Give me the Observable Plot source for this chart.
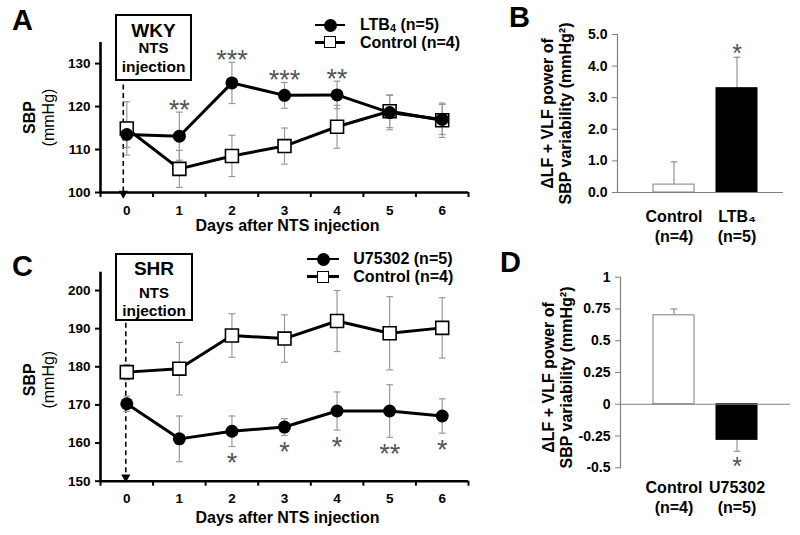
<!DOCTYPE html>
<html><head><meta charset="utf-8">
<script src="https://cdn.jsdelivr.net/npm/d3@7"></script>
<script src="https://cdn.jsdelivr.net/npm/@observablehq/plot@0.6"></script>
<style>
html,body{margin:0;padding:0;background:#fff;}
#fig{position:relative;width:800px;height:535px;overflow:hidden;font-family:'Liberation Sans',Arial,Helvetica,sans-serif;color:#000;}
.pl{position:absolute;}
.pl svg{display:block;}
.t{position:absolute;white-space:nowrap;}
.t sub{font-size:0.68em;line-height:0;vertical-align:-0.22em;}
.box{position:absolute;box-sizing:border-box;border:2.5px solid #000;background:#fff;}
.lgline{position:absolute;height:2.6px;background:#000;}
.lgdot{position:absolute;box-sizing:border-box;}
</style></head><body><div id="fig"></div>
<script>
// ---------- data ----------
const days = [0, 1, 2, 3, 4, 5, 6];
// Panel A: WKY
const wkyLTB4      = [113.5, 113.1, 125.5, 122.6, 122.7, 118.6, 117.0];
const wkyLTB4Err   = [3.0, 5.6, 4.8, 3.0, 3.2, 4.0, 3.5];
const wkyControl   = [114.9, 105.5, 108.5, 110.8, 115.3, 118.9, 116.8];
const wkyControlErr= [6.2, 4.3, 4.8, 4.2, 5.0, 3.8, 4.0];
const wkyStars     = ["", "**", "***", "***", "**", "", ""];
const wkyTicks     = [100, 110, 120, 130];
// Panel C: SHR
const shrU75302      = [170.3, 161.1, 163.1, 164.2, 168.4, 168.4, 167.1];
const shrU75302Err   = [2.0, 6.0, 4.0, 2.2, 5.0, 6.9, 4.5];
const shrControl     = [178.6, 179.5, 188.2, 187.4, 192.0, 188.8, 190.2];
const shrControlErr  = [2.0, 6.9, 5.7, 6.2, 8.0, 9.6, 7.9];
const shrStars       = ["", "", "*", "*", "*", "**", "*"];
const shrTicks       = [150, 160, 170, 180, 190, 200];
// Panel B
const groupsB  = ["Control", "LTB₄"];
const nB       = ["(n=4)", "(n=5)"];
const valuesB  = [0.25, 3.3];
const errB     = [0.72, 0.98];
const starsB   = ["", "*"];
const ticksB   = [0, 1, 2, 3, 4, 5];
// Panel D
const groupsD  = ["Control", "U75302"];
const nD       = ["(n=4)", "(n=5)"];
const valuesD  = [0.70, -0.28];
const errD     = [0.05, 0.09];
const starsD   = ["", "*"];
const ticksD   = [-0.5, -0.25, 0, 0.25, 0.5, 0.75, 1];

// ---------- helpers ----------
const FONT = "'Liberation Sans', Arial, Helvetica, sans-serif";
const GRAY = "#9a9a9a";
const cap = {draw(ctx, size){ const w = Math.sqrt(size); ctx.moveTo(-w, 0); ctx.lineTo(w, 0); }};
const fig = document.getElementById("fig");

function place(node, left, top){
  const wrap = document.createElement("div");
  wrap.className = "pl";
  wrap.style.left = left + "px"; wrap.style.top = top + "px";
  wrap.appendChild(node);
  fig.appendChild(wrap);
}
function txt(html, x, baseline, size, weight, center){
  const el = document.createElement("div");
  const L = 0.86 * size;
  el.className = "t";
  el.innerHTML = html;
  el.style.fontSize = size + "px";
  el.style.lineHeight = L + "px";
  el.style.fontWeight = weight;
  el.style.left = x + "px";
  el.style.top = (baseline - ((L - 1.117 * size) / 2 + 0.905 * size)) + "px";
  if (center) el.style.transform = "translateX(-50%)";
  fig.appendChild(el);
}
function box(l, t, w, h){
  const el = document.createElement("div");
  el.className = "box";
  Object.assign(el.style, {left:l+"px", top:t+"px", width:w+"px", height:h+"px"});
  fig.appendChild(el);
}
function legendRow(x1, x2, y, filled){
  const ln = document.createElement("div");
  ln.className = "lgline";
  Object.assign(ln.style, {left:x1+"px", width:(x2-x1)+"px", top:(y-1.3)+"px"});
  fig.appendChild(ln);
  const s = document.createElement("div");
  s.className = "lgdot";
  const c = (x1 + x2) / 2;
  if (filled) Object.assign(s.style, {left:(c-6.5)+"px", top:(y-6.5)+"px", width:"13px", height:"13px", borderRadius:"50%", background:"#000"});
  else Object.assign(s.style, {left:(c-6)+"px", top:(y-6)+"px", width:"12px", height:"12px", border:"1.5px solid #000", background:"#fff"});
  fig.appendChild(s);
}

function linePanel(o){
  const treat = days.map((d, i) => ({day:d, v:o.treat[i], e:o.treatErr[i], star:o.stars[i]}));
  const ctrl  = days.map((d, i) => ({day:d, v:o.ctrl[i], e:o.ctrlErr[i]}));
  const both = ctrl.concat(treat);
  const y0 = o.yTicks[0];
  return Plot.plot({
    width: 480, height: o.height,
    marginLeft: 100, marginRight: 12, marginTop: o.mt, marginBottom: o.mb,
    x: {domain: [-0.5, 6.5]},
    y: {domain: [y0, o.yMax]},
    style: {fontFamily: FONT, background: "transparent", overflow: "visible", color: "black"},
    marks: [
      Plot.ruleX(days.slice(0, 1), {stroke: "black", strokeWidth: 1.6, strokeDasharray: "5,3.5", dx: o.injDx}),
      Plot.dot(days.slice(0, 1), {x: d => d, y: () => y0, symbol: "triangle", rotate: 180, r: 3.4, fill: "black", dx: o.injDx, dy: o.arrowDy}),
      Plot.ruleX(both, {x: "day", y1: d => d.v - d.e, y2: d => d.v + d.e, stroke: GRAY, strokeWidth: 1.2}),
      Plot.dot(both, {x: "day", y: d => d.v - d.e, symbol: cap, r: 1.9, stroke: GRAY, fill: "none", strokeWidth: 1.2}),
      Plot.dot(both, {x: "day", y: d => d.v + d.e, symbol: cap, r: 1.9, stroke: GRAY, fill: "none", strokeWidth: 1.2}),
      Plot.line(ctrl, {x: "day", y: "v", stroke: "black", strokeWidth: 3}),
      Plot.line(treat, {x: "day", y: "v", stroke: "black", strokeWidth: 3}),
      Plot.dot(ctrl, {x: "day", y: "v", symbol: "square", r: 7.3, fill: "white", stroke: "black", strokeWidth: 1.6}),
      Plot.dot(treat, {x: "day", y: "v", r: 6.5, fill: "black"}),
      Plot.text(treat.filter(d => d.star), {x: "day", y: d => o.starsAbove ? d.v + d.e : d.v - d.e, text: "star", dy: o.starDy, fill: "#555", fontSize: 27}),
      Plot.ruleX([-0.5], {stroke: "black", strokeWidth: 2.6}),
      Plot.ruleY([y0], {stroke: "black", strokeWidth: 2.6}),
      Plot.axisY({ticks: o.yTicks, tickFormat: d => String(d), tickSize: 5, tickPadding: 5, strokeWidth: 2, fontSize: 13.5, fontWeight: "bold", label: null}),
      Plot.axisX({ticks: d3.range(-0.5, 7, 1), tickSize: 5, tickFormat: () => "", strokeWidth: 2, label: null}),
      Plot.axisX({ticks: days, tickFormat: d => String(d), tickSize: 0, tickPadding: 12.5, fontSize: 13.5, fontWeight: "bold", label: null}),
      Plot.text(["Days after NTS injection"], {frameAnchor: "bottom", lineAnchor: "middle", textAnchor: "middle", dy: o.titleDy, dx: 3, fontSize: 16, fontWeight: "bold"}),
      Plot.text(["SBP"], {frameAnchor: "left", textAnchor: "middle", lineAnchor: "middle", rotate: -90, dx: -71, dy: o.labDy, fontSize: 16, fontWeight: "bold"}),
      Plot.text(["(mmHg)"], {frameAnchor: "left", textAnchor: "middle", lineAnchor: "middle", rotate: -90, dx: -52, dy: o.labDy, fontSize: 16})
    ]
  });
}

function barPanel(o){
  const data = o.groups.map((g, i) => ({g, n: o.ns[i], v: o.values[i], e: o.err[i], star: o.stars[i],
    fill: i === 0 ? "white" : "black", stroke: i === 0 ? "#7f7f7f" : "black"}));
  const tip = d => d.v + Math.sign(d.v) * d.e;
  return Plot.plot({
    width: 320, height: o.height,
    marginLeft: o.ml, marginRight: o.mr, marginTop: o.mt, marginBottom: o.mb,
    x: {domain: o.groups, range: [150, 300], padding: 0.35, axis: null},
    y: {domain: o.yDomain},
    color: {type: "identity"},
    style: {fontFamily: FONT, background: "transparent", overflow: "visible", color: "black"},
    marks: [
      Plot.ruleX(data, {x: "g", y1: "v", y2: tip, stroke: "#8a8a8a", strokeWidth: 1.1}),
      Plot.dot(data, {x: "g", y: tip, symbol: cap, r: 1.9, stroke: "#8a8a8a", fill: "none", strokeWidth: 1.1}),
      Plot.barY(data, {x: "g", y: "v", fill: "fill", stroke: "stroke", strokeWidth: 1}),
      Plot.ruleY([0], {stroke: "#808080", strokeWidth: 1.2}),
      Plot.frame({anchor: "left", stroke: "#808080", strokeWidth: 1.2}),
      Plot.axisY({ticks: o.yTicks, tickFormat: o.fmt, tickSize: 5, tickPadding: 5, stroke: "#808080", fontSize: 14, fontWeight: "bold", label: null}),
      Plot.text(data, {x: "g", frameAnchor: "bottom", text: d => d.g + "\n" + d.n, textAnchor: "middle", lineAnchor: "top", dy: o.catDy, lineHeight: 1.25, fontSize: 16, fontWeight: "bold"}),
      Plot.text(data.filter(d => d.star), {x: "g", y: tip, text: "star", dy: o.starDy, fill: "#555", fontSize: 25}),
      Plot.text(["ΔLF + VLF power of\nSBP variability (mmHg²)"], {frameAnchor: "left", textAnchor: "middle", lineAnchor: "middle", rotate: -90, dx: o.labDx, dy: o.labDy, lineHeight: 1.12, fontSize: 16, fontWeight: "bold"})
    ]
  });
}

// ---------- panels ----------
place(linePanel({treat: wkyLTB4, treatErr: wkyLTB4Err, ctrl: wkyControl, ctrlErr: wkyControlErr, stars: wkyStars,
  starsAbove: true, starDy: -2, yTicks: wkyTicks, yMax: 134.9, height: 240, mt: 42, mb: 48,
  injDx: -3.5, arrowDy: 1, titleDy: 33, labDy: 0}), 0, 0);
place(linePanel({treat: shrU75302, treatErr: shrU75302Err, ctrl: shrControl, ctrlErr: shrControlErr, stars: shrStars,
  starsAbove: false, starDy: 17, yTicks: shrTicks, yMax: 204.8, height: 285, mt: 21.7, mb: 54.3,
  injDx: -1, arrowDy: -4, titleDy: 37, labDy: 3}), 0, 250);
place(barPanel({groups: groupsB, ns: nB, values: valuesB, err: errB, stars: starsB, yDomain: [0, 5], yTicks: ticksB,
  fmt: d => d.toFixed(1), height: 250, ml: 137, mr: 17, mt: 34, mb: 58, catDy: 15, starDy: -3, labDx: -61, labDy: 0}), 480, 0);
place(barPanel({groups: groupsD, ns: nD, values: valuesD, err: errD, stars: starsD, yDomain: [-0.5, 1], yTicks: ticksD,
  fmt: d => String(d), height: 285, ml: 140, mr: 10, mt: 26.7, mb: 67.7, catDy: 10.7, starDy: 16, labDx: -63, labDy: 5}), 480, 250);

// ---------- annotations ----------
txt("A", 12, 30.5, 29, "bold");
txt("B", 509, 27.5, 29, "bold");
txt("C", 12, 277, 29, "bold");
txt("D", 500, 272.5, 29, "bold");

box(115, 14, 77, 67);
txt("WKY", 153.5, 37.5, 19, "bold", true);
txt("NTS", 153.5, 54, 15, "bold", true);
txt("injection", 153.5, 72, 15.5, "bold", true);

box(115, 253, 78, 68);
txt("SHR", 154, 276.2, 19, "bold", true);
txt("NTS", 154, 298.8, 15, "bold", true);
txt("injection", 154, 316, 15.5, "bold", true);

legendRow(315, 345, 25, true);
txt("LTB<sub>4</sub> (n=5)", 360, 30.5, 16, "bold");
legendRow(315, 345, 42.3, false);
txt("Control (n=4)", 360, 48, 16, "bold");

legendRow(307, 339, 259, true);
txt("U75302 (n=5)", 353.3, 264.5, 16, "bold");
legendRow(307, 339, 276.7, false);
txt("Control (n=4)", 353.3, 282, 16, "bold");
</script></body></html>
